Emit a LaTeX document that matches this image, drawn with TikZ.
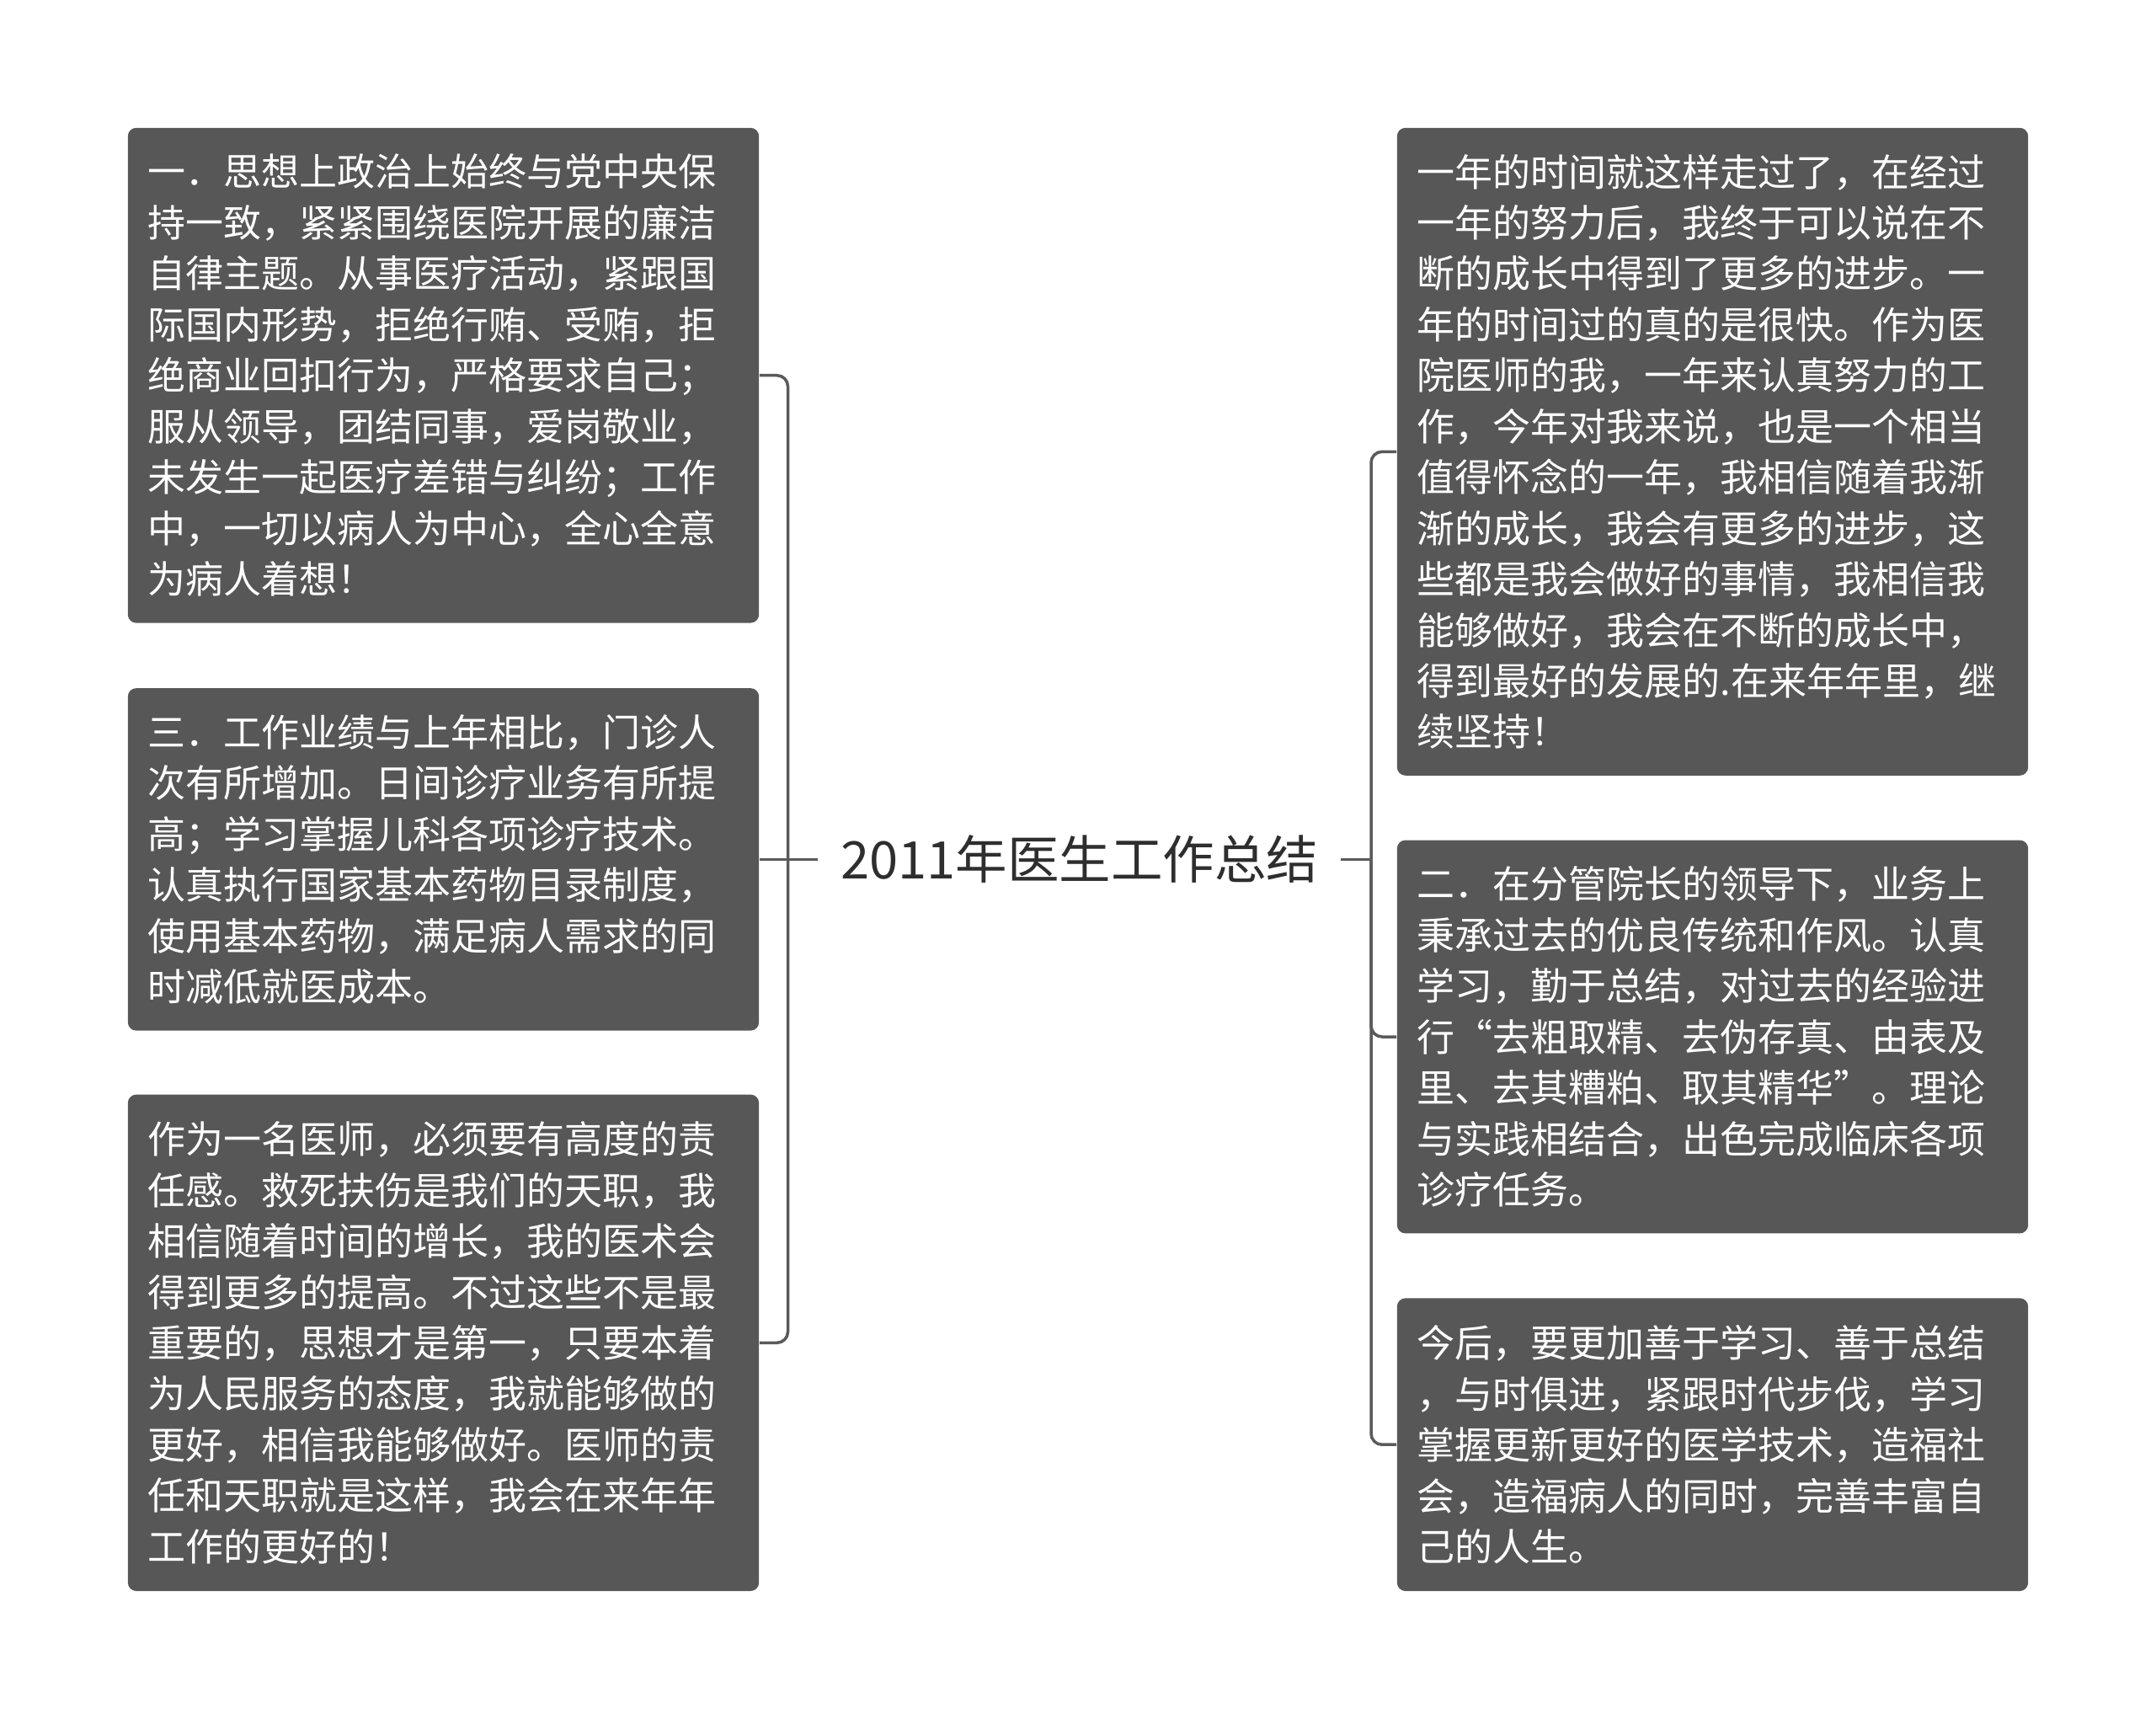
\documentclass[tikz,border=0pt]{standalone}
\usepackage{fontspec}
\setmainfont{Noto Sans CJK SC}
\usepackage{tikz}
\usetikzlibrary{calc,positioning}
\setlength{\parindent}{0pt}
\definecolor{boxgray}{HTML}{575757}
\definecolor{linegray}{HTML}{5A5A5A}
\definecolor{titlegray}{HTML}{2E2E2E}

\begin{document}
\begin{tikzpicture}[
  topic/.style={inner xsep=0.26cm, inner ysep=4pt, text=titlegray, font=\fontsize{17.5pt}{20pt}\selectfont},
  leaf/.style={rectangle, rounded corners=0.1cm, fill=boxgray, text=white, align=left,
    text width=7.014cm, inner xsep=0.24cm, inner ysep=0pt,
    font=\fontsize{12.8pt}{17.2pt}\selectfont},
  link/.style={draw=linegray, line width=1pt},
  elbow link/.style={link, rounded corners=0.13cm}
]
  \useasboundingbox (0,0) rectangle (25.6,-20.41);
  % centre topic
  \node[topic] (main) at (12.817,-10.204) {2011年医生工作总结};
  % left side
  \node[leaf, minimum height=5.878cm] (l1) at (5.265,-4.457) {一．思想上政治上始终与党中央保\\持一致，紧紧围绕医院开展的廉洁\\自律主题。从事医疗活动，紧跟国\\际国内形势，拒绝行贿、受贿，拒\\绝商业回扣行为，严格要求自己；\\服从领导，团结同事，爱岗敬业，\\未发生一起医疗差错与纠纷；工作\\中，一切以病人为中心，全心全意\\为病人着想！};
  \node[leaf, minimum height=4.066cm] (l2) at (5.265,-10.204) {三．工作业绩与上年相比，门诊人\\次有所增加。日间诊疗业务有所提\\高；学习掌握儿科各项诊疗技术。\\认真执行国家基本药物目录制度，\\使用基本药物，满足病人需求的同\\时减低就医成本。};
  \node[leaf, minimum height=5.894cm] (l3) at (5.265,-15.943) {作为一名医师，必须要有高度的责\\任感。救死扶伤是我们的天职，我\\相信随着时间的增长，我的医术会\\得到更多的提高。不过这些不是最\\重要的，思想才是第一，只要本着\\为人民服务的态度，我就能够做的\\更好，相信我能够做好。医师的责\\任和天职就是这样，我会在来年年\\工作的更好的！};
  % right side
  \node[leaf, minimum height=7.69cm] (r1) at (20.335,-5.363) {一年的时间就这样走过了，在经过\\一年的努力后，我终于可以说在不\\断的成长中得到了更多的进步。一\\年的时间过的真的是很快。作为医\\院医师的我，一年来认真努力的工\\作，今年对我来说，也是一个相当\\值得怀念的一年，我相信随着我渐\\渐的成长，我会有更多的进步，这\\些都是我会做好的事情，我相信我\\能够做好，我会在不断的成长中，\\得到最好的发展的.在来年年里，继\\续坚持！};
  \node[leaf, minimum height=4.669cm] (r2) at (20.335,-12.31) {二．在分管院长的领导下，业务上\\秉承过去的优良传统和作风。认真\\学习，勤于总结，对过去的经验进\\行“去粗取精、去伪存真、由表及\\里、去其糟粕、取其精华”。理论\\与实践相结合，出色完成临床各项\\诊疗任务。};
  \node[leaf, minimum height=3.477cm] (r3) at (20.335,-17.152) {今后，要更加善于学习、善于总结\\，与时俱进，紧跟时代步伐，学习\\掌握更新更好的医学技术，造福社\\会，造福病人的同时，完善丰富自\\己的人生。};
  % junctions
  \coordinate (jl) at (9.355,-10.204);
  \coordinate (jr) at (16.28,-10.204);
  \draw[link] (main.west) -- (l2.east);
  \draw[elbow link] (jl) |- (l1.east);
  \draw[elbow link] (jl) |- (l3.east);
  \draw[link] (main.east) -- (jr);
  \draw[elbow link] (jr) |- (r1.west);
  \draw[elbow link] (jr) |- (r2.west);
  \draw[elbow link] (jr) |- (r3.west);
\end{tikzpicture}
\end{document}
